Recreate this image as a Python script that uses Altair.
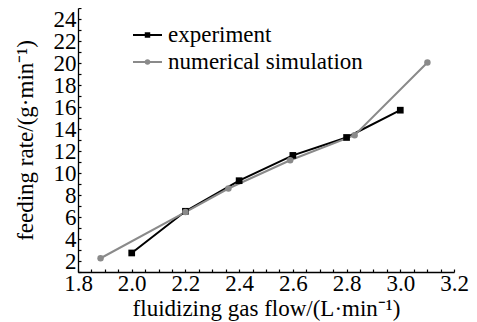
import altair as alt
import pandas as pd

# ---- data ----
exp_x = [2.0, 2.2, 2.4, 2.6, 2.8, 3.0]
exp_y = [2.73, 6.52, 9.3, 11.6, 13.23, 15.71]
sim_x = [1.884, 2.2, 2.36, 2.59, 2.83, 3.101]
sim_y = [2.25, 6.45, 8.59, 11.16, 13.44, 20.05]
series_names = ["experiment", "numerical simulation"]
series_colors = ["#000000", "#8a8a8a"]
x_ticks = [round(1.8 + 0.05 * i, 2) for i in range(29)]
y_ticks = list(range(1, 26))

FONT = "Liberation Serif"
FS = 23

df = pd.concat([
    pd.DataFrame({"x": exp_x, "y": exp_y, "series": series_names[0]}),
    pd.DataFrame({"x": sim_x, "y": sim_y, "series": series_names[1]}),
], ignore_index=True)

xscale = alt.Scale(domain=[1.8, 3.2], nice=False, zero=False)
yscale = alt.Scale(domain=[1, 25], nice=False, zero=False)

x_axis = alt.Axis(
    values=x_ticks,
    labelExpr="abs(round(datum.value*100)) % 20 == 0 ? format(datum.value, '.1f') : ''",
    labelOverlap=False, labelFlush=False, grid=False,
    tickSize=alt.ExprRef("-3"), labelPadding=3, titlePadding=2,
)
y_axis = alt.Axis(
    values=y_ticks,
    labelExpr="datum.value % 2 == 0 ? datum.label : ''",
    labelOverlap=False, grid=False,
    tickSize=alt.ExprRef("-3"), labelPadding=5, titlePadding=16,
)

X = alt.X("x:Q", scale=xscale, axis=x_axis, title="fluidizing gas flow/(L·min⁻¹)")
Y = alt.Y("y:Q", scale=yscale, axis=y_axis, title="feeding rate/(g·min⁻¹)")

base = alt.Chart(df)
lines = base.mark_line(strokeWidth=2).encode(
    x=X, y=Y,
    stroke=alt.Stroke("series:N", scale=alt.Scale(domain=series_names, range=series_colors), legend=None),
)
squares = base.transform_filter(alt.datum.series == series_names[0]).mark_square(
    size=45, opacity=1, color=series_colors[0]).encode(x=X, y=Y)
circles = base.transform_filter(alt.datum.series == series_names[1]).mark_circle(
    size=42, opacity=1, color=series_colors[1]).encode(x=X, y=Y)

# ---- legend (drawn as guide decoration inside the plot, top-left) ----
LEG_X0, LEG_X1, LEG_XM, LEG_TX = 55, 84, 69.5, 90
LEG_ROWS = [27, 54]
legend_layers = []
for name, col, row, shape in zip(series_names, series_colors, LEG_ROWS, ["square", "circle"]):
    one = alt.Chart(pd.DataFrame({"series": [name]}))
    legend_layers.append(one.mark_rule(color=col, strokeWidth=2).encode(
        x=alt.value(LEG_X0), x2=alt.value(LEG_X1), y=alt.value(row)))
    legend_layers.append(one.mark_point(shape=shape, filled=True, color=col, size=30, opacity=1).encode(
        x=alt.value(LEG_XM), y=alt.value(row)))
    legend_layers.append(one.mark_text(align="left", baseline="middle", font=FONT, fontSize=FS,
                                       color="black").encode(
        text="series:N", x=alt.value(LEG_TX), y=alt.value(row)))

chart = alt.layer(lines, squares, circles, *legend_layers).properties(
    width=376, height=264,
    autosize=alt.AutoSizeParams(type="none"),
    padding={"left": 70, "top": 0, "right": 15, "bottom": 50},
).configure_view(stroke=None).configure_axis(
    labelFont=FONT, labelFontSize=FS, labelColor="black",
    titleFont=FONT, titleFontSize=FS, titleFontWeight="normal", titleColor="black",
    domainColor="black", domainWidth=1.3, tickColor="black", tickWidth=1.2,
)

chart.save("out.html", embed_options={"renderer": "svg", "actions": False})
